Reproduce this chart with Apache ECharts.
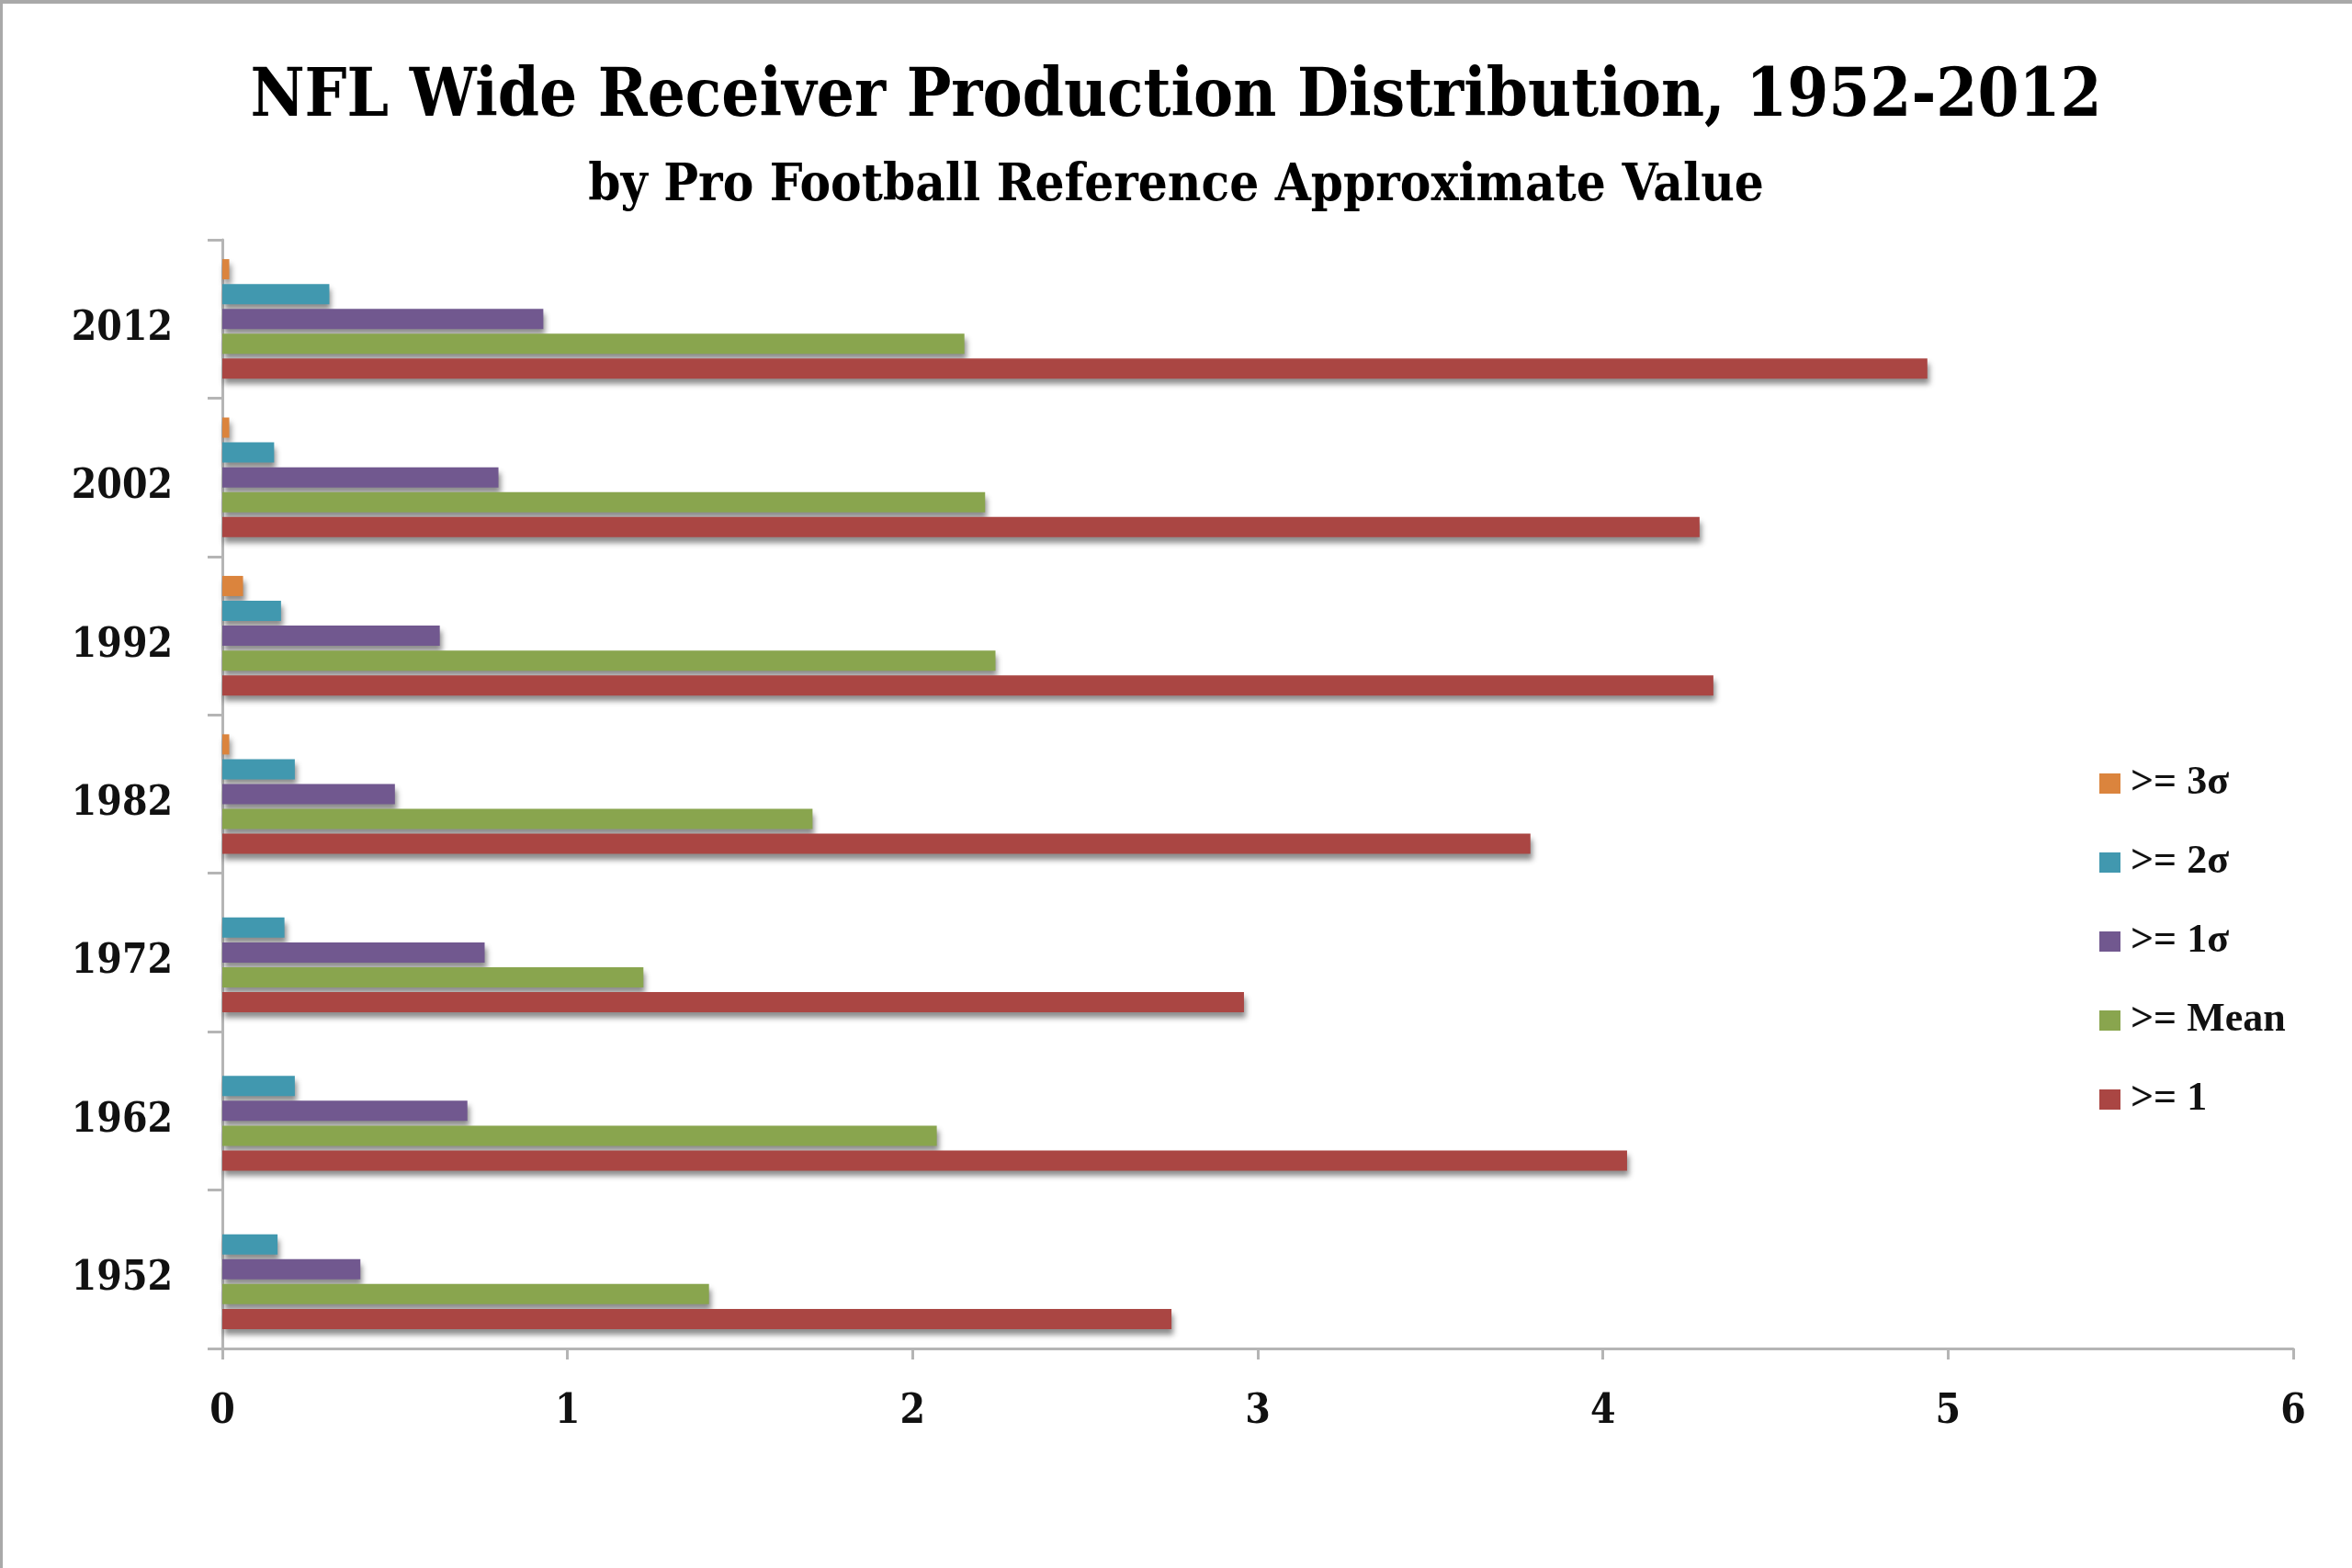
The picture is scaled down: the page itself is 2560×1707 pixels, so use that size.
<!DOCTYPE html>
<html>
<head>
<meta charset="utf-8">
<script src="https://cdn.jsdelivr.net/npm/echarts@6/dist/echarts.min.js"></script>
<style>
  html, body { margin: 0; padding: 0; background: #fff; }
  #chart { width: 2560px; height: 1707px; }
</style>
</head>
<body>
<div id="chart"></div>
<script>
// categories, bottom to top
var years = ['1952', '1962', '1972', '1982', '1992', '2002', '2012'];

// series values
var geOne   = [2.75, 4.07, 2.96, 3.79, 4.32, 4.28, 4.94];
var geMean  = [1.41, 2.07, 1.22, 1.71, 2.24, 2.21, 2.15];
var geSig1  = [0.40, 0.71, 0.76, 0.50, 0.63, 0.80, 0.93];
var geSig2  = [0.16, 0.21, 0.18, 0.21, 0.17, 0.15, 0.31];
var geSig3  = [0, 0, 0, 0.02, 0.06, 0.02, 0.02];

var xTicks = [0, 1, 2, 3, 4, 5, 6];

var slab = "'DejaVu Serif Condensed', 'DejaVu Serif', serif";

var myChar = echarts.init(document.getElementById('chart'));

function barSeries(name, data, color) {
	return {
		name: name,
		type: 'bar',
		data: data,
		barWidth: 22,
		barGap: '23%',
		itemStyle: {
			color: color,
			shadowColor: 'rgba(0,0,0,0.45)',
			shadowBlur: 6,
			shadowOffsetX: 2,
			shadowOffsetY: 6
		}
	};
}

var myOption = {
	backgroundColor: '#fff',
	animation: false,
	title: [{
		text: 'NFL Wide Receiver Production Distribution, 1952-2012',
		left: 'center',
		top: 66,
		textStyle: { fontFamily: slab, fontWeight: 'bold', fontSize: 72, color: '#000' }
	}, {
		text: 'by Pro Football Reference Approximate Value',
		left: 'center',
		top: 170,
		textStyle: { fontFamily: slab, fontWeight: 'bold', fontSize: 56, color: '#000' }
	}],
	legend: {
		orient: 'vertical',
		left: 2280,
		top: 826,
		itemWidth: 23,
		itemHeight: 22,
		itemGap: 42,
		icon: 'rect',
		data: ['>= 3σ', '>= 2σ', '>= 1σ', '>= Mean', '>= 1'],
		textStyle: {
			fontFamily: "'Liberation Serif', 'DejaVu Serif', serif",
			fontWeight: 'bold',
			fontSize: 44,
			lineHeight: 44,
			color: '#111',
			padding: [0, 0, 0, 6]
		}
	},
	grid: {
		left: 242,
		right: 64,
		top: 261,
		bottom: 239,
		containLabel: false
	},
	xAxis: {
		type: 'value',
		min: 0,
		max: 6,
		interval: 1,
		axisLine: { show: true, lineStyle: { color: '#b5b5b5', width: 3 } },
		axisTick: { show: true, length: 12, lineStyle: { color: '#b5b5b5', width: 3 } },
		splitLine: { show: false },
		axisLabel: {
			margin: 48,
			fontFamily: slab,
			fontWeight: 'bold',
			fontSize: 44,
			color: '#111',
			formatter: function (value) { return xTicks.indexOf(value) >= 0 ? String(value) : ''; }
		}
	},
	yAxis: {
		type: 'category',
		data: years,
		axisLine: { show: true, lineStyle: { color: '#b5b5b5', width: 3 } },
		axisTick: { show: true, length: 16, lineStyle: { color: '#b5b5b5', width: 3 } },
		axisLabel: {
			margin: 54,
			verticalAlign: 'top',
			lineHeight: 22,
			fontFamily: slab,
			fontWeight: 'bold',
			fontSize: 44,
			color: '#111'
		}
	},
	// first series sits at the top of each group
	series: [
		barSeries('>= 3σ', geSig3, '#DB843D'),
		barSeries('>= 2σ', geSig2, '#4198AF'),
		barSeries('>= 1σ', geSig1, '#71588F'),
		barSeries('>= Mean', geMean, '#89A54E'),
		barSeries('>= 1', geOne, '#AA4643')
	],
	graphic: [
		{ type: 'rect', shape: { x: 0, y: 0, width: 2560, height: 4 }, style: { fill: '#a9a9a9' }, silent: true },
		{ type: 'rect', shape: { x: 0, y: 0, width: 3, height: 1707 }, style: { fill: '#a9a9a9' }, silent: true }
	]
};
myChar.setOption(myOption);
</script>
</body>
</html>
